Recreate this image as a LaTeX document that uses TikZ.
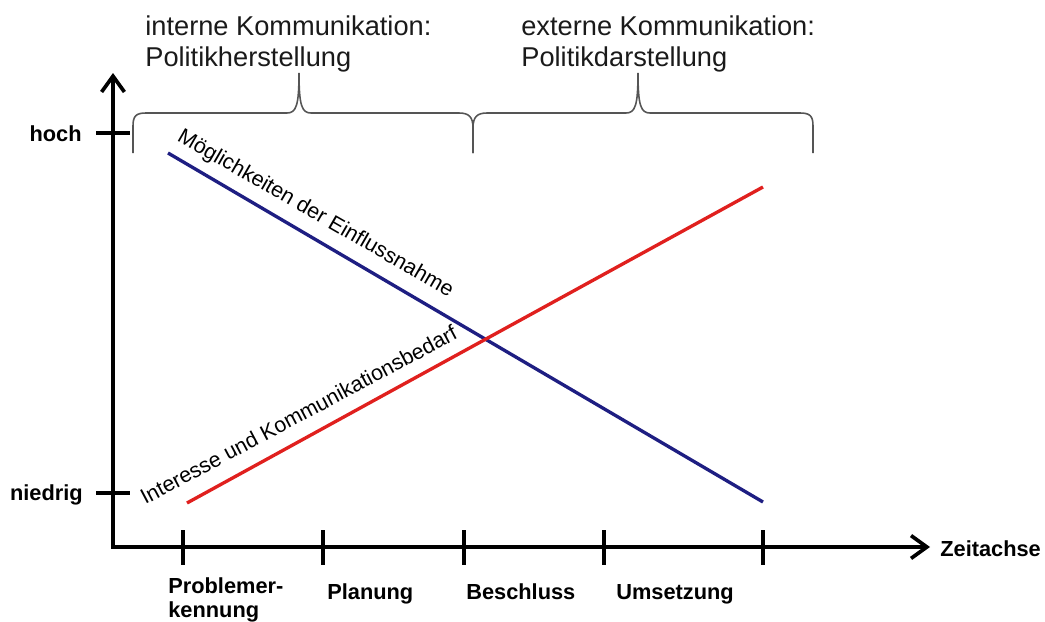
\documentclass[tikz,border=0pt]{standalone}
\usepackage{fontspec}
\setmainfont{Liberation Sans}
\usetikzlibrary{arrows.meta}
\definecolor{lblue}{HTML}{1E1E82}
\definecolor{lred}{HTML}{E0201E}
\definecolor{bracegray}{HTML}{555555}
\definecolor{captext}{HTML}{1A1A1A}
\begin{document}
\begin{tikzpicture}[x=0.02cm,y=-0.02cm,
  axisline/.style={line width=2.1pt, line join=miter, {Straight Barb[length=9pt,width=13pt]}-{Straight Barb[length=9pt,width=13pt]}},
  tickmark/.style={line width=1.9pt},
  bluecurve/.style={lblue, line width=1.9pt},
  redcurve/.style={lred, line width=1.9pt},
  bracepath/.style={bracegray, line width=0.9pt},
  lbl/.style={font=\fontsize{12.4}{13}\selectfont\bfseries, inner sep=0pt},
  captxt/.style={font=\fontsize{15.5}{17.6}\selectfont, text=captext, inner sep=0pt, align=left},
  sl/.style={font=\fontsize{12.2}{14}\selectfont, inner sep=0pt}
]
\useasboundingbox (0,0) rectangle (1045,622);

% axes
\coordinate (O) at (113,547);
\coordinate (Ytop) at (113,73);
\coordinate (Xend) at (930,547);
\draw[axisline] (Ytop) -- (O) -- (Xend);

% y ticks
\coordinate (hochL) at (96,133); \coordinate (hochR) at (130,133);
\coordinate (niedL) at (96,493); \coordinate (niedR) at (130,493);
\draw[tickmark] (hochL) -- (hochR);
\draw[tickmark] (niedL) -- (niedR);

% x ticks
\foreach \x/\n in {183/t1,323/t2,464/t3,604/t4,763/t5}{
  \coordinate (\n a) at (\x,530);
  \coordinate (\n b) at (\x,565);
  \draw[tickmark] (\n a) -- (\n b);
}

% curves
\coordinate (B1) at (168,153); \coordinate (B2) at (763,502);
\coordinate (R1) at (187,503); \coordinate (R2) at (763,187);
\draw[bluecurve] (B1) -- (B2);
\draw[redcurve] (R1) -- (R2);

% slanted labels
\node[sl, anchor=base west, rotate=-30] (moeg) at (176,140) {Möglichkeiten der Einflussnahme};
\node[sl, anchor=base west, rotate=28] (inter) at (145,505) {Interesse und Kommunikationsbedarf};

% braces
\draw[bracepath] (133,153) -- (133,126) .. controls (133,116) and (136,113) .. (146,113) -- (287,113)
  .. controls (296,113) and (299,106) .. (299,73)
  .. controls (299,106) and (302,113) .. (311,113) -- (459,113)
  .. controls (469,113) and (473,117) .. (473,128) -- (473,153);
\draw[bracepath] (473,153) -- (473,128) .. controls (473,117) and (477,113) .. (487,113) -- (626,113)
  .. controls (635,113) and (638,106) .. (638,73)
  .. controls (638,106) and (641,113) .. (650,113) -- (800,113)
  .. controls (810,113) and (813,116) .. (813,126) -- (813,153);

% captions
\node[captxt, anchor=north west] (intern) at (145,15) {interne Kommunikation:\\Politikherstellung};
\node[captxt, anchor=north west] (extern) at (521,15) {externe Kommunikation:\\Politikdarstellung};

% axis labels
\node[lbl, anchor=base east] (hoch) at (82,141) {hoch};
\node[lbl, anchor=base east] (niedrig) at (83,500) {niedrig};
\node[lbl, anchor=base west] (zeit) at (940,556) {Zeitachse};
\node[lbl, anchor=north west, align=left] (prob) at (168,577) {Problemer-\\[1pt]kennung};
\node[lbl, anchor=base west] (plan) at (327,599) {Planung};
\node[lbl, anchor=base west] (besch) at (466,599) {Beschluss};
\node[lbl, anchor=base west] (umset) at (616,599) {Umsetzung};
\end{tikzpicture}
\end{document}
